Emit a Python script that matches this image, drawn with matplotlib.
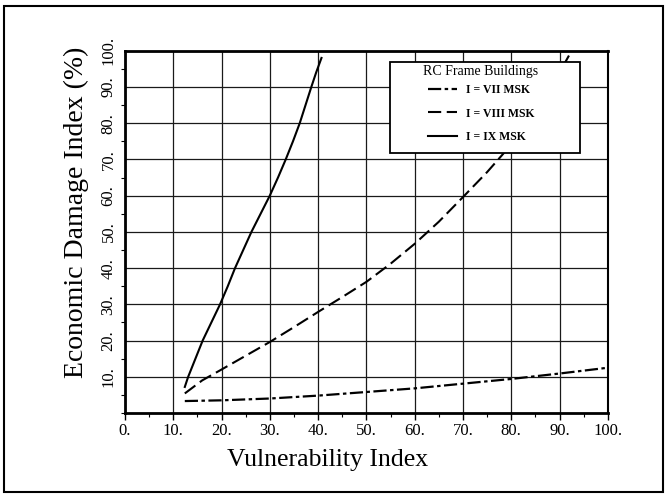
import matplotlib
matplotlib.use('Agg')
import matplotlib.pyplot as plt
from matplotlib.patches import Rectangle
from matplotlib.ticker import MultipleLocator

# Curves (vulnerability index -> damage %)
vi_vii = [12.4, 20, 30, 40, 50, 60, 70, 80, 90, 100]
ed_vii = [3.3, 3.5, 4.0, 4.8, 5.8, 6.8, 8.1, 9.4, 10.9, 12.5]

vi_viii = [12.4, 16, 20, 25, 30, 35, 40, 45, 50, 55, 60, 65, 70, 75, 78.3, 82, 86, 90, 92.5]
ed_viii = [5.4, 9.0, 12.0, 15.8, 19.6, 23.7, 27.9, 32.0, 36.2, 41.2, 46.7, 52.8, 59.6, 66.5, 71.5, 78.0, 86.0, 94.0, 100.0]

vi_ix = [12.4, 13.1, 14.6, 16.1, 17.9, 19.7, 21.3, 22.8, 24.5, 26.2, 28.1, 30.0,
         31.7, 33.3, 34.8, 36.2, 37.4, 38.6, 39.6, 40.7]
ed_ix = [7.2, 10, 15, 20, 25, 30, 35, 40, 45, 50, 55, 60,
         65, 70, 75, 80, 85, 90, 94, 98]

xticks = [0, 10, 20, 30, 40, 50, 60, 70, 80, 90, 100]
xticklabels = ['0.', '10.', '20.', '30.', '40.', '50.', '60.', '70.', '80.', '90.', '100.']
yticks = [10, 20, 30, 40, 50, 60, 70, 80, 90, 100]
yticklabels = ['10.', '20.', '30.', '40.', '50.', '60.', '70.', '80.', '90.', '100.']

plt.rcParams.update({
    'font.family': ['Liberation Serif', 'DejaVu Serif'],
    'lines.scale_dashes': False,
})

fig = plt.figure(figsize=(6.68, 4.97), dpi=100)
ax = fig.add_axes([0.187, 0.169, 0.723, 0.729])

# outer frame around the whole figure
fig.patches.append(Rectangle((0.006, 0.01), 0.986, 0.978, transform=fig.transFigure,
                             fill=False, edgecolor='black', linewidth=1.5))

ax.plot(vi_vii, ed_vii, color='black', lw=1.6, linestyle=(0, (9.5, 2.5, 2.5, 2.5)),
        label='I = VII MSK', zorder=3)
ax.plot(vi_viii, ed_viii, color='black', lw=1.5, linestyle=(0, (9.5, 4)),
        label='I = VIII MSK', zorder=3)
ax.plot(vi_ix, ed_ix, color='black', lw=1.5, label='I = IX MSK', zorder=3)

ax.set_xlim(0, 100)
ax.set_ylim(0, 100)
ax.set_xticks(xticks)
ax.set_xticklabels(xticklabels, fontsize=12)
ax.set_yticks(yticks)
ax.set_yticklabels(yticklabels, fontsize=12, rotation=90, va='center')
ax.xaxis.set_minor_locator(MultipleLocator(5))
ax.yaxis.set_minor_locator(MultipleLocator(5))
ax.tick_params(axis='x', which='major', direction='out', length=5, width=1, pad=2)
ax.tick_params(axis='x', which='minor', direction='out', length=3, width=0.8)
ax.tick_params(axis='y', which='major', direction='out', length=0, pad=6)
ax.tick_params(axis='y', which='minor', direction='out', length=3, width=0.8)

ax.grid(True, which='major', color='#1a1a1a', linewidth=0.9)
for side in ['left', 'bottom', 'top']:
    ax.spines[side].set_linewidth(2)
ax.spines['right'].set_linewidth(1.5)

ax.set_xlabel('Vulnerability Index', fontsize=18.5)
ax.set_ylabel('Economic Damage Index (%)', fontsize=20)
ax.xaxis.set_label_coords(0.42, -0.1)
ax.yaxis.set_label_coords(-0.075, 0.555)

# legend box: white frame, title and entries placed inside
ax.add_patch(Rectangle((0.549, 0.717), 0.393, 0.253, transform=ax.transAxes,
                       facecolor='white', edgecolor='black', linewidth=1.3, zorder=4))
ax.text(0.737, 0.942, 'RC Frame Buildings', transform=ax.transAxes,
        ha='center', va='center', fontsize=10, zorder=5)
leg = ax.legend(loc='upper left', bbox_to_anchor=(0.627, 0.907),
                prop={'size': 8.5, 'weight': 'bold'}, frameon=False,
                borderpad=0, borderaxespad=0, labelspacing=0.95,
                handlelength=2.5, handletextpad=0.75)
leg.set_zorder(6)

fig.savefig('out.png', dpi=100)
